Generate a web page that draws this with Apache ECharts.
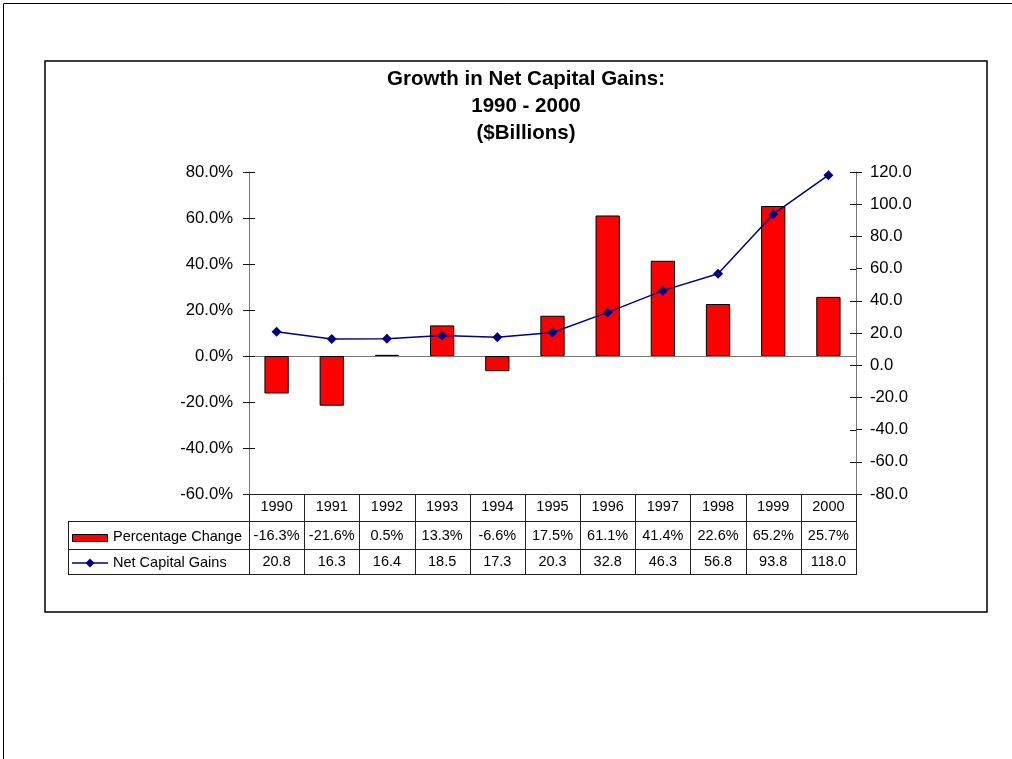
<!DOCTYPE html>
<html>
<head>
<meta charset="utf-8">
<script src="https://cdn.jsdelivr.net/npm/echarts@6/dist/echarts.min.js"></script>
<style>
html,body{margin:0;padding:0;background:#fff;}
#chart{width:1012px;height:759px;}
</style>
</head>
<body>
<div id="chart"></div>
<script>
const categories = ['1990','1991','1992','1993','1994','1995','1996','1997','1998','1999','2000'];
const pctChange = [-16.3, -21.6, 0.5, 13.3, -6.6, 17.5, 61.1, 41.4, 22.6, 65.2, 25.7];
const netGains = [20.8, 16.3, 16.4, 18.5, 17.3, 20.3, 32.8, 46.3, 56.8, 93.8, 118.0];
const titleLines = ['Growth in Net Capital Gains:', '1990 - 2000', '($Billions)'];
const seriesNames = ['Percentage Change', 'Net Capital Gains'];
const leftAxis = {min: -60, max: 80, interval: 20};
const rightAxis = {min: -80, max: 120, interval: 20};

const FONT = "'Liberation Sans', Arial, Helvetica, sans-serif";
const W = 1012, H = 759;
const plotL = 249, plotR = 856, plotT = 172, plotB = 494;
const AXIS_COLOR = '#777';
const TICK_COLOR = '#111';

const chart = echarts.init(document.getElementById('chart'), null, {renderer: 'canvas'});

function yAx(pos, range, fmt) {
  return {
    type: 'value', position: pos, min: range.min, max: range.max, interval: range.interval,
    splitLine: {show: false},
    axisLine: {show: true, lineStyle: {color: AXIS_COLOR, width: 1}},
    axisTick: {show: true, inside: false, length: 6, lineStyle: {color: TICK_COLOR, width: 1}},
    axisLabel: {show: true, margin: pos === 'left' ? 16 : 14, color: '#000', fontSize: 16.7, fontFamily: FONT, formatter: fmt}
  };
}

const pctFmt = v => v.toFixed(1) + '%';
const numFmt = v => v.toFixed(1);

chart.setOption({
  animation: false,
  backgroundColor: '#fff',
  grid: {left: plotL, right: W - plotR, top: plotT, bottom: H - plotB, containLabel: false},
  xAxis: {
    type: 'category', data: categories,
    axisLine: {show: true, onZero: true, onZeroAxisIndex: 0, lineStyle: {color: AXIS_COLOR, width: 1}},
    axisTick: {show: false},
    axisLabel: {show: false},
    splitLine: {show: false}
  },
  yAxis: [yAx('left', leftAxis, pctFmt), yAx('right', rightAxis, numFmt)],
  series: [
    {
      name: seriesNames[0], type: 'bar', data: pctChange, yAxisIndex: 0, barWidth: '44%',
      itemStyle: {color: '#FF0000', borderColor: '#000', borderWidth: 1}, z: 2
    },
    {
      name: seriesNames[1], type: 'line', data: netGains, yAxisIndex: 1,
      symbol: 'diamond', symbolSize: 10, showSymbol: true,
      lineStyle: {color: '#000080', width: 1.5}, itemStyle: {color: '#000080'}, z: 5
    }
  ]
});

const g = [];
g.push({type: 'rect', shape: {x: 3.5, y: 3.5, width: 1200, height: 1000}, style: {fill: 'none', stroke: '#000', lineWidth: 1}, silent: true, z: 0});
g.push({type: 'rect', shape: {x: 45, y: 61, width: 942, height: 551}, style: {fill: 'none', stroke: '#000', lineWidth: 1.5}, silent: true, z: 0});
const titleY = [79, 106, 133];
titleLines.forEach((t, i) => {
  g.push({type: 'text', x: 526, y: titleY[i], style: {text: t, fontSize: 20.5, fontWeight: 'bold', fontFamily: FONT, fill: '#000', align: 'center', verticalAlign: 'middle'}, silent: true});
});

// inner halves of the crossing axis ticks, placed through the axes' own scales
function innerTicks(axisIndex, range, x0, dir) {
  for (let v = range.min; v <= range.max + 1e-9; v += range.interval) {
    const y = Math.round(chart.convertToPixel({yAxisIndex: axisIndex}, v)) + 0.5;
    g.push({type: 'line', shape: {x1: x0, y1: y, x2: x0 + dir * 6, y2: y}, style: {stroke: TICK_COLOR, lineWidth: 1}, silent: true, z: 9});
  }
}
innerTicks(0, leftAxis, plotL, 1);
innerTicks(1, rightAxis, plotR, -1);

const n = categories.length;
const colW = (plotR - plotL) / n;
const rowY = [494, 521, 549, 574];
const legL = 68;
const lineStyle = {stroke: '#222', lineWidth: 1};
function hline(x1, x2, y) { g.push({type: 'line', shape: {x1, y1: y + 0.5, x2, y2: y + 0.5}, style: lineStyle, silent: true, z: 10}); }
function vline(x, y1, y2) { g.push({type: 'line', shape: {x1: x + 0.5, y1, x2: x + 0.5, y2}, style: lineStyle, silent: true, z: 10}); }
hline(plotL - 6, plotR, rowY[0]);
hline(legL, plotR, rowY[1]);
hline(legL, plotR, rowY[2]);
hline(legL, plotR, rowY[3]);
for (let i = 0; i <= n; i++) {
  const x = Math.round(plotL + i * colW);
  vline(x, rowY[0], rowY[3] + 1);
}
vline(legL, rowY[1], rowY[3] + 1);

const cellText = (t, x, y) => g.push({type: 'text', x, y, style: {text: t, fontSize: 14.5, fontFamily: FONT, fill: '#000', align: 'center', verticalAlign: 'middle'}, silent: true, z: 11});
for (let i = 0; i < n; i++) {
  const cx = chart.convertToPixel({xAxisIndex: 0}, categories[i]);
  cellText(categories[i], cx, 507);
  cellText(pctFmt(pctChange[i]), cx, 536);
  cellText(numFmt(netGains[i]), cx, 562);
}
g.push({type: 'rect', shape: {x: 72.5, y: 534.5, width: 35, height: 7}, style: {fill: '#FF0000', stroke: '#000', lineWidth: 1}, silent: true, z: 11});
g.push({type: 'line', shape: {x1: 72, y1: 563, x2: 108, y2: 563}, style: {stroke: '#000080', lineWidth: 1.5}, silent: true, z: 11});
g.push({type: 'polygon', shape: {points: [[90, 558.5], [94.5, 563], [90, 567.5], [85.5, 563]]}, style: {fill: '#000080'}, silent: true, z: 12});
g.push({type: 'text', x: 113, y: 537, style: {text: seriesNames[0], fontSize: 14.5, fontFamily: FONT, fill: '#000', align: 'left', verticalAlign: 'middle'}, silent: true, z: 11});
g.push({type: 'text', x: 113, y: 563, style: {text: seriesNames[1], fontSize: 14.5, fontFamily: FONT, fill: '#000', align: 'left', verticalAlign: 'middle'}, silent: true, z: 11});

chart.setOption({graphic: g});
</script>
</body>
</html>
